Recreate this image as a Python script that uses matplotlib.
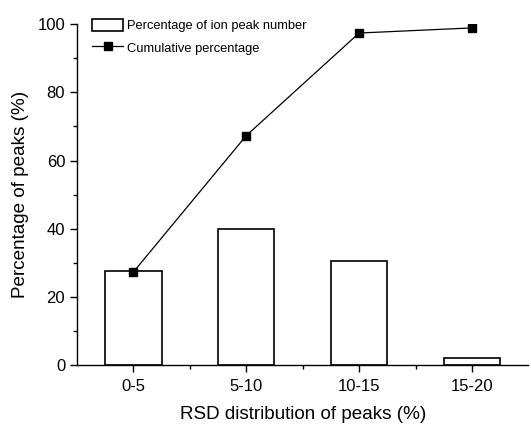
import matplotlib
matplotlib.use("Agg")
import matplotlib.pyplot as plt
import numpy as np

# values
CATEGORIES = ["0-5", "5-10", "10-15", "15-20"]
PEAK_PCT = [27.5, 40.0, 30.4, 2.0]
CUMULATIVE_PCT = [27.3, 67.3, 97.4, 98.9]

plt.rcParams.update({
    "font.family": ["Liberation Sans", "DejaVu Sans"],
    "axes.linewidth": 1.0,
})

fig = plt.figure(figsize=(5.31, 4.24), dpi=100)
ax = fig.add_axes([0.145, 0.139, 0.85, 0.804])

x = np.arange(len(CATEGORIES))
bars = ax.bar(x, PEAK_PCT, width=0.5, facecolor="white", edgecolor="black",
              linewidth=1.2, label="Percentage of ion peak number", zorder=2)
line, = ax.plot(x, CUMULATIVE_PCT, color="black", linewidth=0.9, marker="s",
                markersize=6, label="Cumulative percentage", zorder=3)

ax.set_xlim(-0.5, 3.5)
ax.set_ylim(0, 100)
ax.spines["top"].set_visible(False)
ax.spines["right"].set_visible(False)

ax.set_xticks(x)
ax.set_xticklabels(CATEGORIES)
ax.set_xticks(x[:-1] + 0.5, minor=True)
ax.set_yticks([0, 20, 40, 60, 80, 100])
ax.set_yticks([10, 30, 50, 70, 90], minor=True)
ax.tick_params(axis="both", which="major", direction="out", length=5,
               width=1.0, labelsize=12, colors="black")
ax.tick_params(axis="x", which="major", pad=5)
ax.tick_params(axis="both", which="minor", direction="out", length=3, width=1.0)

ax.set_xlabel("RSD distribution of peaks (%)", fontsize=13.6, labelpad=9)
ax.set_ylabel("Percentage of peaks (%)", fontsize=13.6, labelpad=6)

ax.legend([bars, line], ["Percentage of ion peak number", "Cumulative percentage"],
          loc="upper left", bbox_to_anchor=(0.022, 1.03), frameon=False,
          fontsize=9.3, handlelength=2.4, handleheight=1.0,
          handletextpad=0.3, labelspacing=0.7, borderaxespad=0)

fig.savefig("out.png", dpi=100)
